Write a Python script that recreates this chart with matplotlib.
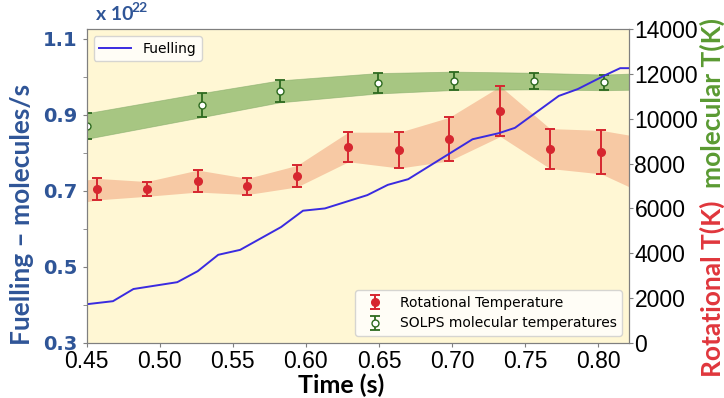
import numpy as np
import matplotlib
matplotlib.use('Agg')
import matplotlib.pyplot as plt
from matplotlib.ticker import MultipleLocator

# Fuelling rate, in units of 1e22 molecules/s
fuel_t = [0.45, 0.468, 0.482, 0.512, 0.526, 0.540, 0.555, 0.583, 0.598, 0.613,
          0.642, 0.656, 0.670, 0.714, 0.732, 0.743, 0.773, 0.786, 0.805, 0.815, 0.821]
fuel_v = [0.402, 0.410, 0.442, 0.460, 0.489, 0.532, 0.545, 0.605, 0.648, 0.654,
          0.689, 0.716, 0.731, 0.836, 0.852, 0.866, 0.950, 0.968, 1.005, 1.023, 1.023]

# Measured rotational temperature (K)
rot_t = [0.457, 0.491, 0.526, 0.560, 0.594, 0.629, 0.664, 0.698, 0.733, 0.767, 0.802]
rot_T = [6860, 6870, 7220, 6980, 7440, 8740, 8600, 9090, 10330, 8670, 8510]
rot_err = [480, 330, 490, 360, 480, 660, 800, 970, 1120, 890, 970]
# band values where the shading meets the axis edges
rot_edge_t = [0.45, 0.821]
rot_edge_lo = [6300, 6970]
rot_edge_hi = [7270, 9270]

# SOLPS molecular temperature (K)
sol_t = [0.45, 0.529, 0.582, 0.649, 0.701, 0.756, 0.804]
sol_T = [9675, 10610, 11220, 11580, 11690, 11680, 11620]
sol_err = [570, 535, 490, 455, 410, 370, 350]
sol_edge_t = 0.83
sol_edge_lo = 11300
sol_edge_hi = 12030

blue = '#2f5597'
yellow = '#fff7d4'

fig = plt.figure(figsize=(7.24, 3.98), dpi=100)
ax = fig.add_axes([0.1197, 0.1382, 0.7490, 0.7889])
ax2 = ax.twinx()

# temperature axis sits underneath so the fuelling line stays on top
ax.set_zorder(ax2.get_zorder() + 1)
ax.patch.set_visible(False)
ax2.patch.set_visible(True)
ax2.set_facecolor(yellow)

ax.plot(fuel_t, fuel_v, color='#3a2be0', lw=1.4, label='Fuelling')

rT = np.array(rot_T)
re = np.array(rot_err)
band_t = [rot_edge_t[0]] + rot_t + [rot_edge_t[1]]
band_lo = [rot_edge_lo[0]] + list(rT - re) + [rot_edge_lo[1]]
band_hi = [rot_edge_hi[0]] + list(rT + re) + [rot_edge_hi[1]]
ax2.fill_between(band_t, band_lo, band_hi, color='#ec8a62', alpha=0.42, lw=0)

sT = np.array(sol_T)
se = np.array(sol_err)
ax2.fill_between(sol_t + [sol_edge_t], list(sT - se) + [sol_edge_lo],
                 list(sT + se) + [sol_edge_hi], color='#5f9e3f', alpha=0.55, lw=0.6,
                 edgecolor='#7fa865')

ax2.errorbar(rot_t, rot_T, yerr=rot_err, fmt='o', color='#d6262f', ms=5.5,
             capsize=3.5, elinewidth=1.4, capthick=1.4, label='Rotational Temperature')
ax2.errorbar(sol_t, sol_T, yerr=sol_err, fmt='o', color='#2d6a1f', mfc='white',
             mec='#2d6a1f', ms=5, capsize=3.5, elinewidth=1.3, capthick=1.3,
             label='SOLPS molecular temperatures')

ax.set_xlim(0.45, 0.821)
ax.set_ylim(0.3, 1.126)
ax2.set_ylim(0, 14000)

ax.set_xticks([0.45, 0.50, 0.55, 0.60, 0.65, 0.70, 0.75, 0.80])
ax.set_yticks([0.3, 0.5, 0.7, 0.9, 1.1])
ax.yaxis.set_minor_locator(MultipleLocator(0.1))
ax2.set_yticks(range(0, 14001, 2000))

ax.tick_params(axis='x', labelsize=16.5, labelfontfamily='Liberation Sans',
               pad=2, length=3, color='#7f7f7f')
ax.tick_params(axis='y', which='both', labelcolor=blue, labelsize=14,
               length=3, color='#7f7f7f')
for lab in ax.get_yticklabels():
    lab.set_fontweight('bold')
ax2.tick_params(axis='y', labelsize=16.5, labelfontfamily='Liberation Sans',
                pad=1, length=3, color='#7f7f7f')

for a in (ax, ax2):
    for s in a.spines.values():
        s.set_color('#7f7f7f')

ax.legend(loc='upper left', fontsize=10, fancybox=True, handlelength=2.3)
ax2.legend(loc='lower right', fontsize=10, fancybox=True)

fig.text(0.030, 0.46, 'Fuelling \u2013 molecules/s', rotation=90, ha='center',
         va='center', color=blue, fontsize=19, fontweight='bold', family='Lato')
fig.text(0.471, 0.033, 'Time (s)', ha='center', va='center', color='black',
         fontsize=18, fontweight='bold', family='Lato')
fig.text(0.984, 0.275, 'Rotational T(K)', rotation=90, ha='center', va='center',
         color='#e0363c', fontsize=19, fontweight='bold', family='Lato')
fig.text(0.984, 0.74, 'molecular T(K)', rotation=90, ha='center', va='center',
         color='#5a9a32', fontsize=19, fontweight='bold', family='Lato')
fig.text(0.132, 0.950, 'x 10', ha='left', va='baseline', color=blue,
         fontsize=14, fontweight='bold', family='Lato')
fig.text(0.181, 0.970, '22', ha='left', va='baseline', color=blue,
         fontsize=10, fontweight='bold', family='Lato')

fig.savefig('out.png', dpi=100)
